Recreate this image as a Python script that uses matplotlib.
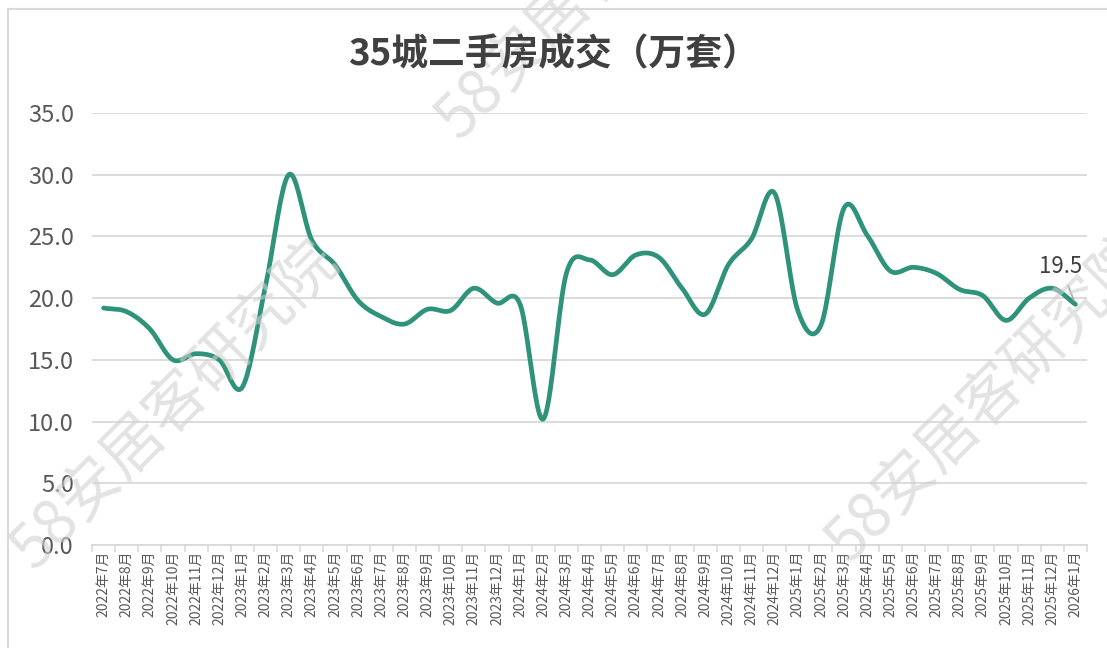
import numpy as np
import matplotlib.pyplot as plt
from matplotlib.patches import Rectangle

plt.rcParams['font.family'] = ['Noto Sans CJK SC', 'DejaVu Sans']

# 月份
months = ['2022年7月', '2022年8月', '2022年9月', '2022年10月', '2022年11月', '2022年12月',
          '2023年1月', '2023年2月', '2023年3月', '2023年4月', '2023年5月', '2023年6月',
          '2023年7月', '2023年8月', '2023年9月', '2023年10月', '2023年11月', '2023年12月',
          '2024年1月', '2024年2月', '2024年3月', '2024年4月', '2024年5月', '2024年6月',
          '2024年7月', '2024年8月', '2024年9月', '2024年10月', '2024年11月', '2024年12月',
          '2025年1月', '2025年2月', '2025年3月', '2025年4月', '2025年5月', '2025年6月',
          '2025年7月', '2025年8月', '2025年9月', '2025年10月', '2025年11月', '2025年12月',
          '2026年1月']
# 成交量（万套）
deals = [19.2, 18.9, 17.5, 15.0, 15.5, 15.0,
         12.8, 21.0, 30.0, 24.7, 22.7, 19.8,
         18.5, 17.9, 19.1, 19.0, 20.8, 19.6,
         19.5, 10.2, 22.0, 23.1, 21.9, 23.5,
         23.3, 20.8, 18.7, 22.7, 24.8, 28.5,
         19.0, 17.8, 27.3, 25.1, 22.2, 22.5,
         22.0, 20.7, 20.2, 18.2, 20.0, 20.8,
         19.5]
y_ticks = [0, 5, 10, 15, 20, 25, 30, 35]
title = '35城二手房成交（万套）'
watermark = '58安居客研究院'


def smooth(x, y, n=20):
    # catmull-rom，模拟excel平滑线
    x = np.asarray(x, float)
    y = np.asarray(y, float)
    px = np.concatenate([[2 * x[0] - x[1]], x, [2 * x[-1] - x[-2]]])
    py = np.concatenate([[2 * y[0] - y[1]], y, [2 * y[-1] - y[-2]]])
    xs, ys = [], []
    t = np.linspace(0, 1, n, endpoint=False)
    for i in range(1, len(px) - 2):
        for p, out in ((px, xs), (py, ys)):
            p0, p1, p2, p3 = p[i - 1], p[i], p[i + 1], p[i + 2]
            out.append(0.5 * ((2 * p1) + (-p0 + p2) * t
                              + (2 * p0 - 5 * p1 + 4 * p2 - p3) * t ** 2
                              + (-p0 + 3 * p1 - 3 * p2 + p3) * t ** 3))
    xs.append([x[-1]])
    ys.append([y[-1]])
    return np.concatenate(xs), np.concatenate(ys)


fig = plt.figure(figsize=(11.07, 6.48), dpi=100)
fig.patches.append(Rectangle((8 / 1107, -0.1), 1.2, 1 - 9 / 648 + 0.1, transform=fig.transFigure,
                             fill=False, edgecolor='#D9D9D9', linewidth=1.5))
ax = fig.add_axes([92 / 1107, 1 - 545 / 648, 995 / 1107, 432 / 648])

x = np.arange(len(months))
sx, sy = smooth(x, deals)
ax.plot(sx, sy, color='#2E937A', linewidth=3.4, solid_capstyle='round', zorder=3)

ax.set_xlim(-0.5, len(months) - 0.5)
ax.set_ylim(0, 35)
ax.set_yticks(y_ticks)
ax.set_yticklabels(['%.1f' % v for v in y_ticks])
ax.grid(axis='y', color='#D9D9D9', linewidth=1.3)
ax.set_axisbelow(True)
for s in ['top', 'right', 'left']:
    ax.spines[s].set_visible(False)
ax.spines['bottom'].set_color('#D9D9D9')
ax.spines['bottom'].set_linewidth(1.3)

ax.set_xticks(x)
ax.set_xticklabels(months, rotation=90, fontsize=10, color='#595959', va='top')
ax.tick_params(axis='x', length=0, pad=4)
ax.set_xticks(np.arange(-0.5, len(months), 1), minor=True)
ax.tick_params(axis='x', which='minor', length=5, color='#D9D9D9', width=1.2)
ax.tick_params(axis='y', length=0, labelsize=17, labelcolor='#595959', pad=13)

# 数据标签
ax.annotate('%.1f' % deals[-1], xy=(x[-1], deals[-1]), xytext=(x[-1] - 0.65, deals[-1] + 3.1),
            ha='center', va='center', fontsize=16, color='#404040',
            arrowprops=dict(arrowstyle='-', color='#A6A6A6', lw=1.2, shrinkA=4, shrinkB=3))

fig.text(553 / 1107, 1 - 55 / 648, title, ha='center', va='center', fontsize=26.5,
         fontweight='bold', color='#404040')

# 水印
for cx, cy in [(175, 405), (600, -25), (990, 398), (565, 835)]:
    fig.text(cx / 1107, 1 - cy / 648, watermark, ha='center', va='center', rotation=45,
             fontsize=44, color='#D0D0D0', alpha=0.6, zorder=0)

fig.savefig('out.png', dpi=100)
